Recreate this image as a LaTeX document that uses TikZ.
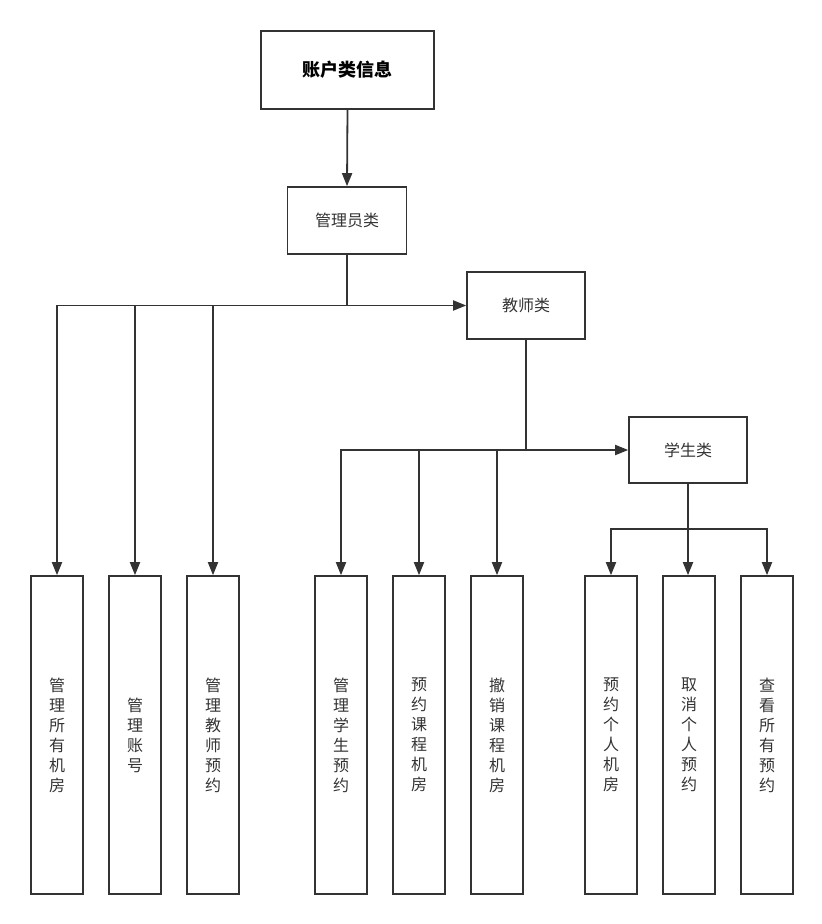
\documentclass[tikz,border=0pt]{standalone}
\usepackage{fontspec}
\setmainfont{Noto Sans CJK SC}
\usetikzlibrary{arrows.meta,positioning}
\definecolor{ln}{HTML}{333333}
\tikzset{
  box/.style={draw=ln,line width=1.6pt,rectangle,inner sep=0pt,text=ln,font=\fontsize{16}{20}\selectfont},
  vbox/.style={box,minimum width=52pt,minimum height=318pt,align=center},
  arr/.style={draw=ln,line width=1.8pt,-{Triangle[length=13pt,width=10pt]}},
  con/.style={draw=ln,line width=1.8pt}
}
\begin{document}
\begin{tikzpicture}[x=1pt,y=-1pt]
\useasboundingbox (0,0) rectangle (822,924);
\node[box,minimum width=173pt,minimum height=78pt,text=black,font=\fontsize{18}{20}\selectfont\bfseries] (root) at (347.5,70) {账户类信息};
\node[box,minimum width=119pt,minimum height=67pt] (admin) at (347,220.5) {管理员类};
\node[box,minimum width=118pt,minimum height=67pt] (teacher) at (526,305.5) {教师类};
\node[box,minimum width=118pt,minimum height=66pt] (student) at (688,450) {学生类};

\node[vbox] (a1) at (57,735) {管\\理\\所\\有\\机\\房};
\node[vbox] (a2) at (135,735) {管\\理\\账\\号};
\node[vbox] (a3) at (213,735) {管\\理\\教\\师\\预\\约};
\node[vbox] (t1) at (341,735) {管\\理\\学\\生\\预\\约};
\node[vbox] (t2) at (419,735) {预\\约\\课\\程\\机\\房};
\node[vbox] (t3) at (497,735) {撤\\销\\课\\程\\机\\房};
\node[vbox] (s1) at (611,735) {预\\约\\个\\人\\机\\房};
\node[vbox] (s2) at (689,735) {取\\消\\个\\人\\预\\约};
\node[vbox] (s3) at (767,735) {查\\看\\所\\有\\预\\约};

\draw[arr] (root.south) -- (admin.north);

\coordinate (j1) at (admin.south |- teacher.west);
\draw[con] (admin.south) -- (j1);
\draw[arr] (j1) -- (teacher.west);
\draw[arr] (j1) -| (a1.north);
\draw[arr] (j1) -| (a2.north);
\draw[arr] (j1) -| (a3.north);

\coordinate (j2) at (teacher.south |- student.west);
\draw[con] (teacher.south) -- (j2);
\draw[arr] (j2) -- (student.west);
\draw[arr] (j2) -| (t1.north);
\draw[arr] (j2) -| (t2.north);
\draw[arr] (j2) -| (t3.north);

\coordinate (j3) at (688,529);
\draw[con] (student.south) -- (j3);
\draw[arr] (j3) -| (s1.north);
\draw[arr] (j3) -- (j3 |- s2.north);
\draw[arr] (j3) -| (s3.north);
\end{tikzpicture}
\end{document}
